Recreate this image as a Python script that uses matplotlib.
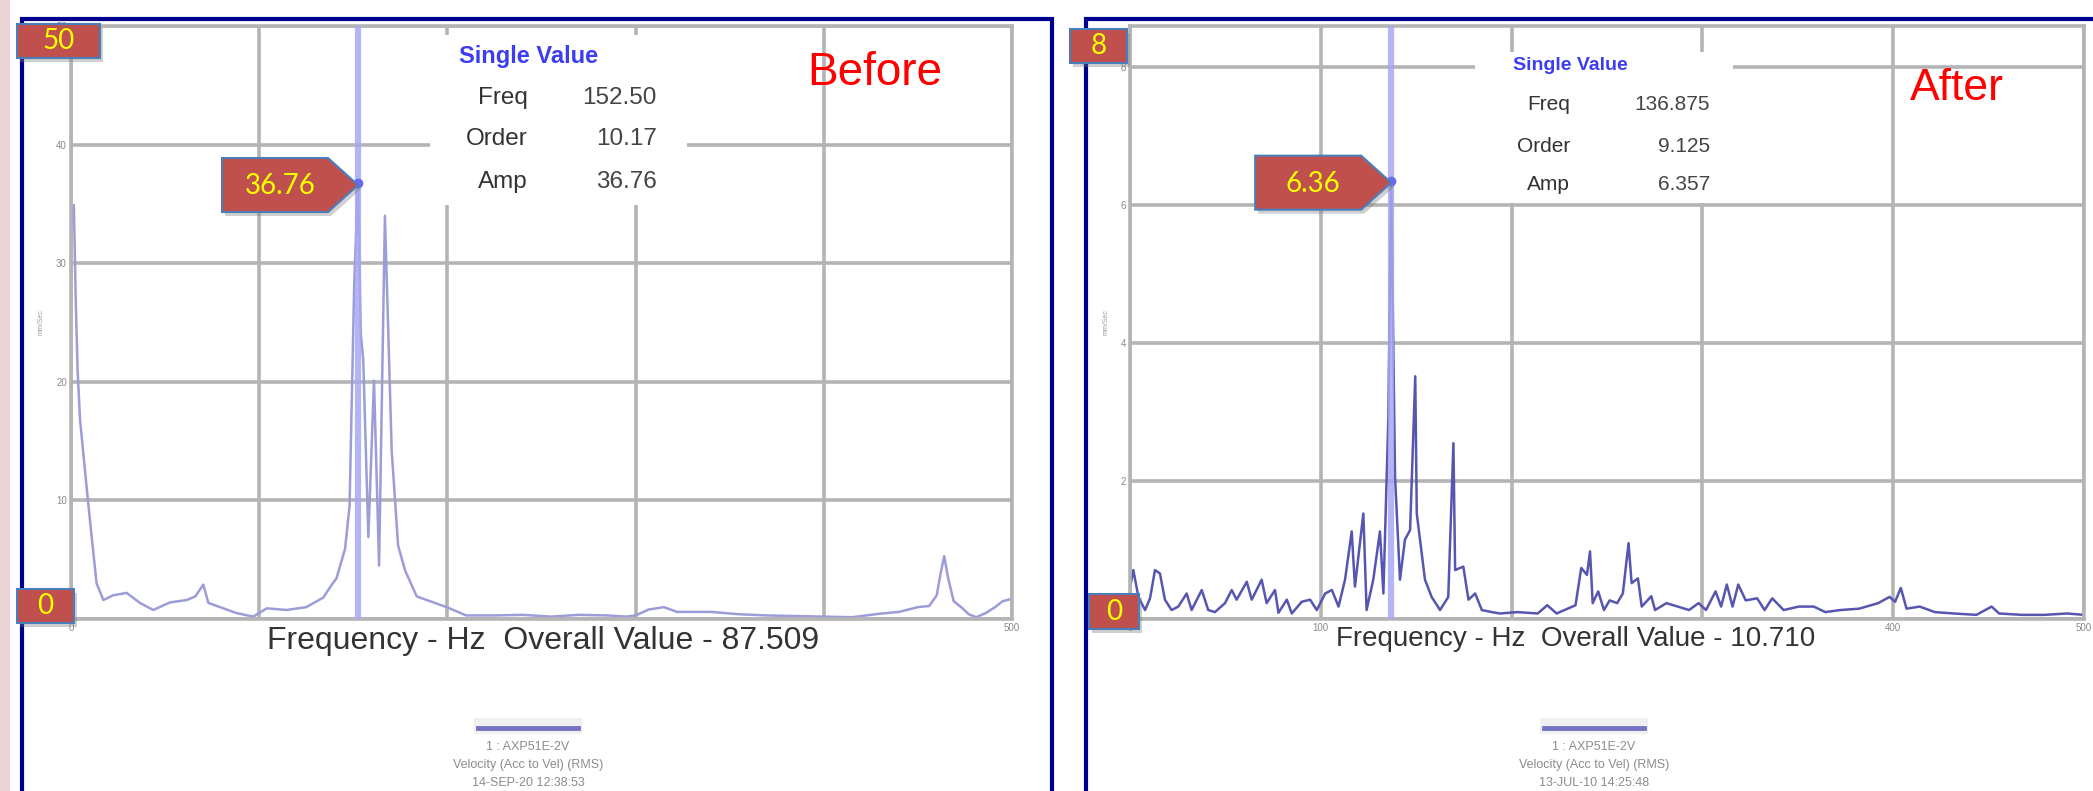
import matplotlib
matplotlib.use('Agg')
import matplotlib.pyplot as plt
from matplotlib.patches import Polygon, Rectangle

# Spectrum before the fix (Hz, mm/s)
freq_before = [0, 1.5, 2.5, 3.5, 4.8, 8.3, 11, 13.6, 17.2, 22.4, 29.6, 36.7, 43.7,
               52.6, 61.5, 66, 70.3, 73, 79.2, 88, 96.8, 104, 114.6, 125, 134, 139,
               141, 145.6, 148, 150.5, 152.5, 154, 155.3, 158, 161, 163.7, 166.8,
               170.4, 173.8, 177.5, 183.7, 199.6, 210, 225, 240, 255, 270, 285, 295,
               300, 307, 315, 322, 340, 355, 370, 385, 400, 415, 430, 440, 450, 456,
               460, 462, 464, 466, 469, 473, 477, 481, 486, 491, 495, 500]
amp_before = [33.0, 34.9, 27.0, 21.0, 16.8, 11.1, 6.9, 3.0, 1.6, 2.0, 2.2, 1.35, 0.76,
              1.4, 1.6, 1.9, 2.9, 1.35, 1.0, 0.5, 0.2, 0.9, 0.76, 1.0, 1.8, 3.0,
              3.4, 5.9, 9.5, 28.3, 36.76, 24.0, 21.8, 6.9, 20.1, 4.5, 34.0,
              14.2, 6.2, 4.1, 1.9, 1.0, 0.3, 0.3, 0.35, 0.2, 0.35, 0.3, 0.2,
              0.3, 0.8, 1.0, 0.6, 0.6, 0.4, 0.3, 0.25, 0.2, 0.15, 0.45, 0.6, 1.0, 1.1,
              2.0, 3.8, 5.3, 3.5, 1.5, 1.0, 0.4, 0.15, 0.5, 1.0, 1.5, 1.7]

# Spectrum after the fix (Hz, mm/s)
freq_after = [0, 1.75, 4.4, 7.9, 10.5, 13.1, 15.7, 18.3, 21.8, 25.3, 29.7, 32.3, 37.6,
              41, 44.5, 49.8, 53.3, 55.9, 61.2, 63.8, 69, 71.6, 76, 77.8, 82.2, 84.8,
              90, 94.4, 97.9, 102.3, 105.8, 109.3, 112.7, 116.2, 117.9, 122.3, 124,
              127.5, 131, 132.8, 135.4, 136.875, 138.9, 141.5, 144.1, 146.8, 149.5,
              150.3, 152, 154.6, 158.1, 162.5, 166.8, 169.5, 170.4, 174.7, 177.4,
              180.9, 184.4, 189.6, 193.9, 203, 213.7, 218.7, 223.6, 233.5, 236.5,
              239.5, 241.1, 242.5, 245.4, 248.4, 251.4, 255.3, 258.3, 261.3, 262.9,
              266.2, 268.2, 273.2, 275.2, 281.1, 287.1, 293, 298, 301.9, 306.9,
              309.8, 312.8, 315.8, 318.8, 322.7, 328.7, 332.6, 336.6, 342.6, 350.5,
              358.4, 364.4, 372.3, 382.2, 392.1, 398.1, 401, 404, 407, 413.9, 421.8,
              431.7, 443.6, 451.6, 455.5, 467.4, 479.3, 491.2, 500]
amp_after = [0.45, 0.71, 0.32, 0.13, 0.3, 0.71, 0.66, 0.28, 0.13, 0.18, 0.37, 0.13, 0.42,
             0.13, 0.1, 0.23, 0.42, 0.28, 0.54, 0.28, 0.57, 0.23, 0.42, 0.09, 0.28, 0.08,
             0.25, 0.28, 0.13, 0.37, 0.42, 0.18, 0.57, 1.27, 0.47, 1.53, 0.13,
             0.57, 1.27, 0.37, 2.91, 6.357, 2.07, 0.57, 1.15, 1.29, 3.52,
             1.53, 1.15, 0.57, 0.32, 0.13, 0.32, 2.55, 0.71, 0.76, 0.28,
             0.37, 0.13, 0.1, 0.08, 0.1, 0.08, 0.2, 0.08, 0.2, 0.74,
             0.64, 0.98, 0.23, 0.4, 0.13, 0.27, 0.23, 0.37, 1.1, 0.52,
             0.59, 0.18, 0.33, 0.13, 0.23, 0.18, 0.13, 0.23, 0.13, 0.4,
             0.18, 0.5, 0.18, 0.5, 0.27, 0.3, 0.13, 0.3, 0.13, 0.18,
             0.18, 0.1, 0.13, 0.15, 0.23, 0.32, 0.25, 0.45, 0.15, 0.18, 0.1,
             0.08, 0.06, 0.18, 0.08, 0.06, 0.06, 0.08, 0.06]

# Cursor readouts: freq, order, amp
cursor_before = (152.50, 10.17, 36.76)
cursor_after = (136.875, 9.125, 6.357)
cursor_text_before = ('152.50', '10.17', '36.76')
cursor_text_after = ('136.875', '9.125', '6.357')
overall_before = '87.509'
overall_after = '10.710'
legend_before = ['1 : AXP51E-2V', 'Velocity (Acc to Vel) (RMS)', '14-SEP-20 12:38:53']
legend_after = ['1 : AXP51E-2V', 'Velocity (Acc to Vel) (RMS)', '13-JUL-10 14:25:48']

W, H = 2093, 791
plt.rcParams['font.family'] = ['Liberation Sans', 'DejaVu Sans']
fig = plt.figure(figsize=(W / 100, H / 100), dpi=100)
fig.patch.set_facecolor('white')


def fx(x):
    return x / W


def fy(y):
    return 1 - y / H


def rect(x0, y0, x1, y1, **kw):
    r = Rectangle((fx(x0), fy(y1)), fx(x1) - fx(x0), fy(y0) - fy(y1),
                  transform=fig.transFigure, **kw)
    fig.add_artist(r)
    return r


def poly(pts, **kw):
    p = Polygon([(fx(x), fy(y)) for x, y in pts], closed=True,
                transform=fig.transFigure, **kw)
    fig.add_artist(p)


RED = '#c0504d'
EDGE = '#4a7ebb'


def red_box(x0, y0, x1, y1, label, size=20):
    rect(x0 + 3, y0 + 4, x1 + 3, y1 + 4, facecolor='#777777', alpha=0.35,
         edgecolor='none', zorder=8)
    rect(x0, y0, x1, y1, facecolor=RED, edgecolor=EDGE, linewidth=1.5, zorder=9)
    fig.text(fx((x0 + x1) / 2), fy((y0 + y1) / 2), label, color='#ffff00',
             fontsize=size, family='Lato', ha='center', va='center', zorder=10)


def red_arrow(ax, freq, amp, label):
    px, py = ax.transData.transform((freq, amp))
    tx, ty = px, H - py
    x0, xn = tx - 136, tx - 30
    y0, y1 = ty - 25, ty + 29
    pts = [(x0, y0), (xn, y0), (tx, ty + 2), (xn, y1), (x0, y1)]
    poly([(x + 3, y + 4) for x, y in pts], facecolor='#777777', alpha=0.35,
         edgecolor='none', zorder=8)
    poly(pts, facecolor=RED, edgecolor=EDGE, linewidth=1.5, zorder=9)
    fig.text(fx((x0 + xn) / 2 + 5), fy(ty + 3), label, color='#ffff00',
             fontsize=20, family='Lato', ha='center', va='center', zorder=10)


def panel(left, right, freq, amp, ymax, ystep, xlabels, cursor, line_color):
    ax = fig.add_axes([fx(left), fy(619), fx(right) - fx(left), fy(26) - fy(619)])
    ax.set_xlim(0, 500)
    ax.set_ylim(0, ymax)
    ax.set_xticks(range(0, 501, 100))
    ax.set_xticklabels(xlabels)
    yt = [v * ystep for v in range(int(ymax / ystep) + 1)]
    ax.set_yticks(yt)
    ax.set_yticklabels([f'{v:g}' for v in yt])
    ax.tick_params(length=0, labelsize=7, labelcolor='#8a8a8a', pad=3)
    ax.set_axisbelow(True)
    ax.grid(True, color='#b4b4b4', linewidth=2.6)
    for s in ax.spines.values():
        s.set_color('#b4b4b4')
        s.set_linewidth(2.6)
    ax.plot(freq, amp, color=line_color, linewidth=1.8, zorder=2)
    ax.axvline(cursor[0], color='#a8a8f4', linewidth=4.5, alpha=0.85, zorder=3)
    ax.plot([cursor[0]], [cursor[2]], 'o', color='#6a6af0', markersize=6, zorder=4)
    return ax


def info_box(ax, x0, y0, x1, y1, title_x, rows_y, label_r, value_r, values,
             title_size, row_size):
    r = Rectangle((fx(x0), fy(y1)), fx(x1) - fx(x0), fy(y0) - fy(y1),
                  transform=fig.transFigure, facecolor='white', edgecolor='none',
                  zorder=1, clip_on=False)
    ax.add_patch(r)
    fig.text(fx(title_x), fy(rows_y[0]), 'Single Value', color='#3c3cf2',
             fontsize=title_size, fontweight='bold', ha='left', va='center')
    for name, val, y in zip(['Freq', 'Order', 'Amp'], values, rows_y[1:]):
        fig.text(fx(label_r), fy(y), name, color='#333333', fontsize=row_size,
                 ha='right', va='center')
        fig.text(fx(value_r), fy(y), val, color='#444444', fontsize=row_size,
                 ha='right', va='center')


def legend(cx, y_line, lines):
    rect(cx - 54, y_line - 10, cx + 54, y_line + 6, facecolor='#f0f0f0',
         edgecolor='none', zorder=1)
    fig.add_artist(plt.Line2D([fx(cx - 50), fx(cx + 50)], [fy(y_line), fy(y_line)],
                              transform=fig.transFigure, color='#7474c4', linewidth=3.5))
    for i, t in enumerate(lines):
        fig.text(fx(cx), fy(y_line + 19 + i * 18), t, color='#8c8c8c', fontsize=9,
                 ha='center', va='center')


# side strip and panel frames
rect(0, 0, 10, H, facecolor='#e9d3d4', edgecolor='none', zorder=0)
rect(22, 19, 1052, H + 20, facecolor='none', edgecolor='#00008f', linewidth=3, zorder=0)
rect(1086, 19, W + 40, H + 20, facecolor='none', edgecolor='#00008f', linewidth=3, zorder=0)

# Before
ax1 = panel(71, 1012, freq_before, amp_before, 50, 10,
            ['0', '', '', '', '', '500'], cursor_before, '#9c9cd8')
ax1.set_ylabel('mm/Sec', fontsize=5, color='#9a9a9a', labelpad=8)
info_box(ax1, 430, 35, 687, 205, 459, [57, 98, 139, 182], 528, 657, cursor_text_before,
         17, 17.5)
fig.text(fx(875), fy(73), 'Before', color='#ff0000', fontsize=33, ha='center', va='center')
fig.text(fx(543), fy(641), 'Frequency - Hz  Overall Value - ' + overall_before,
         fontsize=23, color='#333333', ha='center', va='center',
         bbox=dict(facecolor='white', edgecolor='none', pad=1), zorder=6)
legend(528, 728, legend_before)

# After
ax2 = panel(1130, 2084, freq_after, amp_after, 8.6, 2,
            ['0', '100', '', '', '400', '500'], cursor_after, '#5656b0')
ax2.set_ylabel('mm/Sec', fontsize=5, color='#9a9a9a', labelpad=8)
info_box(ax2, 1475, 52, 1733, 203, 1513, [65, 105, 147, 185], 1570, 1710, cursor_text_after,
         14, 15)
fig.text(fx(1957), fy(88), 'After', color='#ff0000', fontsize=32, ha='center', va='center')
fig.text(fx(1576), fy(639), 'Frequency - Hz  Overall Value - ' + overall_after,
         fontsize=20, color='#333333', ha='center', va='center',
         bbox=dict(facecolor='white', edgecolor='none', pad=1), zorder=6)
legend(1594, 728, legend_after)

# value callouts
red_box(17, 24, 100, 58, '50')
red_box(17, 589, 74, 623, '0')
red_arrow(ax1, cursor_before[0], cursor_before[2], f'{cursor_before[2]:.2f}')
red_box(1070, 29, 1127, 63, '8')
red_box(1089, 594, 1139, 629, '0')
red_arrow(ax2, cursor_after[0], cursor_after[2], f'{cursor_after[2]:.2f}')

fig.savefig('out.png', dpi=100)
